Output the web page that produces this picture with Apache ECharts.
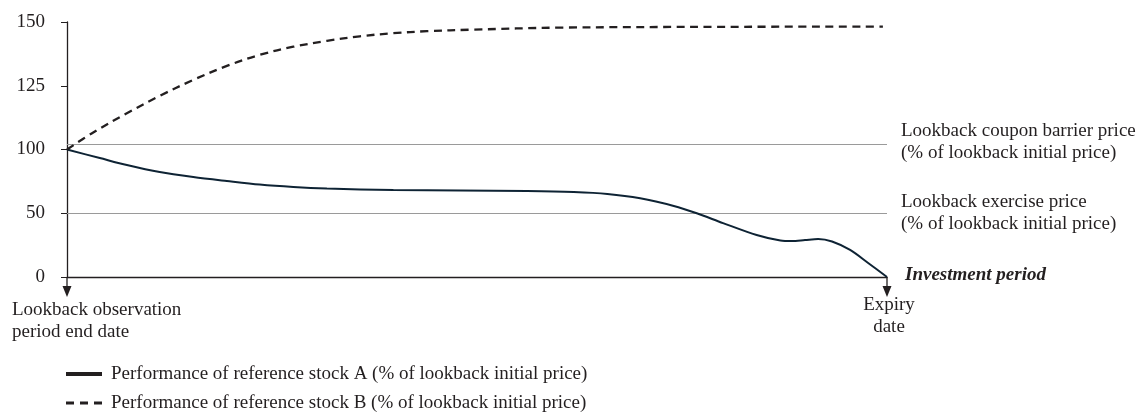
<!DOCTYPE html>
<html>
<head>
<meta charset="utf-8">
<script src="https://cdn.jsdelivr.net/npm/echarts@6/dist/echarts.min.js"></script>
<style>
  html, body { margin: 0; padding: 0; background: #ffffff; }
  #main { width: 1141px; height: 412px; }
</style>
</head>
<body>
<div id="main"></div>
<script>
// ---- Data ----
// x: % of investment period elapsed; y: % of lookback initial price
const yTicks = [0, 50, 100, 125, 150];

const timeA = [0, 4.0, 7.3, 11.3, 15.4, 19.5, 23.5, 27.6, 31.7, 39.8, 48, 56.1, 61.8, 65.9, 69.9, 74, 76.8, 80, 84.1, 87.0, 88.4, 90.0, 91.6, 93.3, 95.5, 97.7, 100];
const stockA = [100, 93.3, 87.8, 82.3, 78.4, 75.3, 72.5, 70.6, 69.4, 68.2, 67.8, 67.4, 66.6, 65.1, 61.7, 55.7, 50, 42.3, 32.9, 28.6, 28.2, 29.0, 29.8, 27.8, 21.2, 11.0, 0];

const timeB = [0, 3.2, 7.3, 11.3, 15.4, 19.5, 23.5, 27.6, 31.7, 35.7, 39.8, 43.9, 49.5, 60.1, 80, 99.5];
const stockB = [100, 106.7, 114.2, 121.0, 127.3, 132.8, 137.1, 140.3, 142.6, 144.4, 145.6, 146.4, 147.0, 147.8, 148.1, 148.2];

const barrierLevel = 102;
const exerciseLevel = 50;

const nameA = 'Performance of reference stock A (% of lookback initial price)';
const nameB = 'Performance of reference stock B (% of lookback initial price)';
const barrierLabel = 'Lookback coupon barrier price\n(% of lookback initial price)';
const exerciseLabel = 'Lookback exercise price\n(% of lookback initial price)';
const startLabel = 'Lookback observation\nperiod end date';
const endLabel = 'Expiry\ndate';
const periodLabel = 'Investment period';

// The reference axis spaces its ticks (0, 50, 100, 125, 150) evenly:
// map a value onto that piecewise-linear tick scale.
function toAxis(v) {
  for (let i = 0; i < yTicks.length - 1; i++) {
    const a = yTicks[i], b = yTicks[i + 1];
    if (v <= b || i === yTicks.length - 2) {
      return i + (v - a) / (b - a);
    }
  }
}

const FONT = '"Liberation Serif", "Times New Roman", serif';
const TXT = '#231f20';
const FS = 19;

const legendBase = {
  orient: 'horizontal',
  left: 66,
  itemWidth: 36,
  itemHeight: 14,
  padding: 0,
  textStyle: { fontFamily: FONT, fontSize: FS, color: TXT, lineHeight: 20, padding: [0, 0, 0, 4] }
};

const chart = echarts.init(document.getElementById('main'), null, { renderer: 'canvas' });

const option = {
  backgroundColor: '#ffffff',
  animation: false,
  grid: { left: 67, right: 254, top: 22, bottom: 135, containLabel: false },
  legend: [
    Object.assign({}, legendBase, {
      top: 364,
      data: [{ name: nameA, icon: 'path://M0,0 L36,0 L36,4 L0,4 Z', itemStyle: { color: '#231f20' } }]
    }),
    Object.assign({}, legendBase, {
      top: 393,
      data: [{ name: nameB, icon: 'path://M0,0 L8,0 L8,3 L0,3 Z M14,0 L22,0 L22,3 L14,3 Z M28,0 L36,0 L36,3 L28,3 Z', itemStyle: { color: '#231f20' } }]
    })
  ],
  xAxis: {
    type: 'value',
    min: 0,
    max: 100,
    axisLine: { show: true, lineStyle: { color: '#231f20', width: 1.3 } },
    axisTick: { show: false },
    axisLabel: { show: false },
    splitLine: { show: false }
  },
  yAxis: {
    type: 'value',
    min: 0,
    max: yTicks.length - 1,
    interval: 1,
    axisLine: { show: true, lineStyle: { color: '#231f20', width: 1.3 } },
    axisTick: { show: true, length: 6, lineStyle: { color: '#231f20', width: 1 } },
    axisLabel: {
      margin: 22,
      fontFamily: FONT,
      fontSize: FS,
      color: TXT,
      formatter: (v) => String(yTicks[Math.round(v)])
    },
    splitLine: { show: false }
  },
  series: [
    {
      name: nameA,
      type: 'line',
      data: timeA.map((t, i) => [t, toAxis(stockA[i])]),
      smooth: 0.3,
      symbol: 'none',
      lineStyle: { color: '#0e2334', width: 2 },
      itemStyle: { color: '#0e2334' },
      z: 3,
      markLine: {
        silent: true,
        symbol: 'none',
        lineStyle: { color: '#9a9a9a', width: 1, type: 'solid' },
        label: {
          show: true,
          position: 'end',
          distance: 14,
          fontFamily: FONT,
          fontSize: FS,
          color: TXT,
          lineHeight: 22,
          align: 'left'
        },
        data: [
          { yAxis: toAxis(barrierLevel), label: { formatter: barrierLabel, offset: [0, -2] } },
          { yAxis: toAxis(exerciseLevel), label: { formatter: exerciseLabel } }
        ],
        z: 1
      }
    },
    {
      name: nameB,
      type: 'line',
      data: timeB.map((t, i) => [t, toAxis(stockB[i])]),
      smooth: 0.35,
      symbol: 'none',
      lineStyle: { color: '#231f20', width: 2.3, type: [8, 5.5] },
      itemStyle: { color: '#231f20' },
      z: 3
    }
  ]
};

chart.setOption(option);

// Arrows and end-of-axis annotations positioned from the axis scales
const y0 = chart.convertToPixel({ yAxisIndex: 0 }, 0);
const xs = chart.convertToPixel({ xAxisIndex: 0 }, 0);
const xe = chart.convertToPixel({ xAxisIndex: 0 }, 100);

function arrow(x) {
  return [
    { type: 'line', shape: { x1: x, y1: y0, x2: x, y2: y0 + 11 }, style: { stroke: '#231f20', lineWidth: 1.3 }, silent: true },
    { type: 'polygon', shape: { points: [[x - 4.5, y0 + 9], [x + 4.5, y0 + 9], [x, y0 + 20]] }, style: { fill: '#231f20' }, silent: true }
  ];
}

chart.setOption({
  graphic: [
    ...arrow(xs),
    ...arrow(xe),
    {
      type: 'text', x: 12, y: y0 + 22, silent: true,
      style: { text: startLabel, font: FS + 'px ' + FONT, fill: TXT, lineHeight: 22, align: 'left', verticalAlign: 'top' }
    },
    {
      type: 'text', x: xe + 2, y: y0 + 17, silent: true,
      style: { text: endLabel, font: FS + 'px ' + FONT, fill: TXT, lineHeight: 22, align: 'center', verticalAlign: 'top' }
    },
    {
      type: 'text', x: xe + 18, y: y0 - 2, silent: true,
      style: { text: periodLabel, font: 'italic bold ' + FS + 'px ' + FONT, fill: TXT, align: 'left', verticalAlign: 'middle' }
    }
  ]
});
</script>
</body>
</html>
